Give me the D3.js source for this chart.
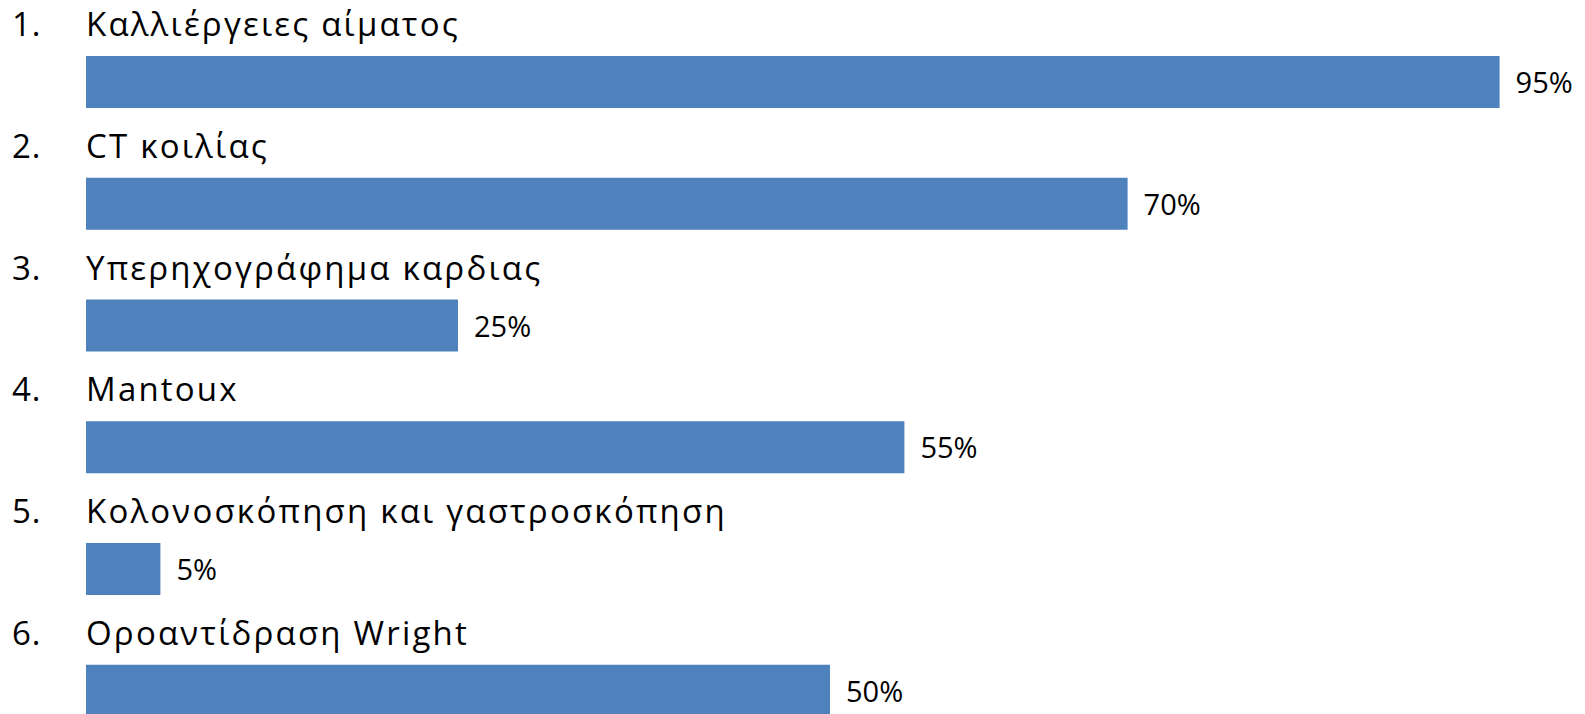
<!DOCTYPE html>
<html>
<head>
<meta charset="utf-8">
<script src="https://cdn.jsdelivr.net/npm/d3@7"></script>
<style>
html,body{margin:0;padding:0;background:#fff;}
svg{display:block;}
text{font-family:"Open Sans","Noto Sans",sans-serif;fill:#000;}
</style>
</head>
<body>
<svg id="chart" width="1585" height="714"></svg>
<script>
const categories = [
  "Καλλιέργειες αίματος",
  "CT κοιλίας",
  "Υπερηχογράφημα καρδιας",
  "Mantoux",
  "Κολονοσκόπηση και γαστροσκόπηση",
  "Οροαντίδραση Wright"
];
const numbers = ["1.", "2.", "3.", "4.", "5.", "6."];
const values = [95, 70, 25, 55, 5, 50];
const valueLabels = ["95%", "70%", "25%", "55%", "5%", "50%"];

const svg = d3.select("#chart");

const x = d3.scaleLinear().domain([0, 100]).range([86, 86 + 1488]);
const pInner = (121.75 - 52) / 121.75;
const y = d3.scaleBand()
  .domain(categories)
  .range([56, 56 + 5 * 121.75 + 52])
  .paddingInner(pInner)
  .paddingOuter(0);

const g = svg.append("g");
const rows = g.selectAll("g.row")
  .data(categories.map((c, i) => ({c, i, v: values[i], lab: valueLabels[i], num: numbers[i]})))
  .join("g").attr("class", "row");

rows.append("rect")
  .attr("x", x(0))
  .attr("y", d => y(d.c))
  .attr("width", d => x(d.v) - x(0))
  .attr("height", y.bandwidth())
  .attr("fill", "#4F81BD");

rows.append("text")
  .attr("x", d => x(d.v) + 16)
  .attr("y", d => y(d.c) + y.bandwidth() / 2 + 11)
  .attr("font-size", 29)
  .text(d => d.lab);

rows.append("text")
  .attr("x", 12)
  .attr("y", d => y(d.c) - 20)
  .attr("font-size", 33)
  .attr("letter-spacing", 1)
  .text(d => d.num);

rows.append("text")
  .attr("x", 86)
  .attr("y", d => y(d.c) - 20)
  .attr("font-size", 33)
  .attr("letter-spacing", 2.2)
  .text(d => d.c);
</script>
</body>
</html>
